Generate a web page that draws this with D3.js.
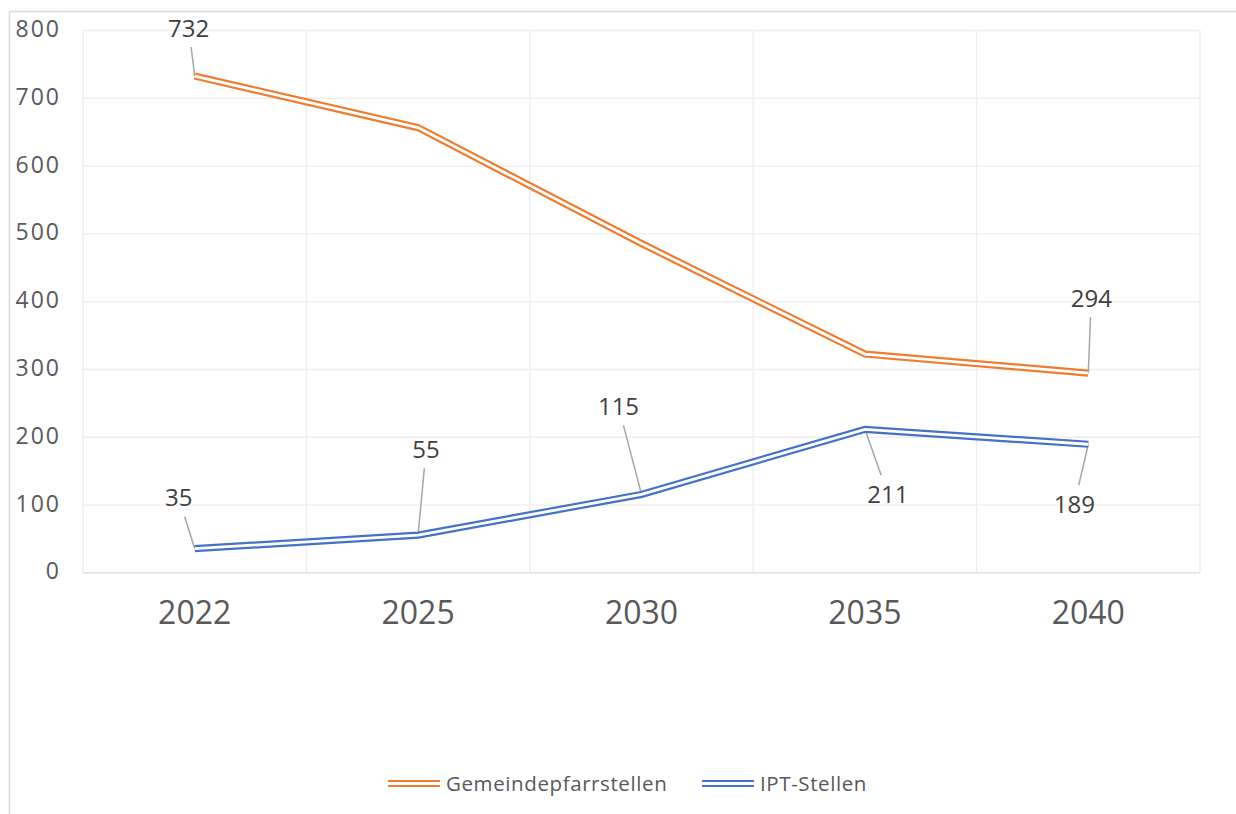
<!DOCTYPE html>
<html>
<head>
<meta charset="utf-8">
<script src="https://cdn.jsdelivr.net/npm/d3@7"></script>
<style>
  html, body { margin: 0; padding: 0; background: #fff; }
  svg { display: block; font-family: "Open Sans", "Noto Sans", sans-serif; }
</style>
</head>
<body>
<svg id="chart" width="1236" height="814"></svg>
<script>
// Years on the category axis
const years = ["2022", "2025", "2030", "2035", "2040"];
// Number of positions per year
const gemeindepfarrstellen = [732, 656, 485, 322, 294];
const iptStellen = [35, 55, 115, 211, 189];
// Value axis ticks
const yTicks = [0, 100, 200, 300, 400, 500, 600, 700, 800];
// Series names and colours
const seriesNames = ["Gemeindepfarrstellen", "IPT-Stellen"];
const seriesColors = ["#ED7D31", "#4472C4"];
// Which points carry a value label (index into years), per series
const labelledPoints = [[0, 4], [0, 1, 2, 3, 4]];
// Label placement relative to its point (label centre offset)
const labelOffsets = [
  [[-6, -48], [3, -75]],
  [[-16, -51], [8, -86], [-23, -88], [23, 65], [-14, 60]]
];

const svg = d3.select("#chart");
const plot = { left: 83, right: 1200, top: 30, bottom: 572.4 };

const x = d3.scaleBand().domain(years).range([plot.left, plot.right]).padding(0);
const y = d3.scaleLinear().domain([0, 800]).range([plot.bottom, plot.top]);

// Outer chart frame (top and left edges)
svg.append("line").attr("x1", 9.5).attr("x2", 1236).attr("y1", 11.5).attr("y2", 11.5)
  .attr("stroke", "#d9d9d9").attr("stroke-width", 1.6);
svg.append("line").attr("x1", 9.5).attr("x2", 9.5).attr("y1", 11.5).attr("y2", 814)
  .attr("stroke", "#d9d9d9").attr("stroke-width", 1.6);

// Vertical gridlines at category boundaries
const bounds = years.map(d => x(d)).concat([plot.right]);
svg.append("g").selectAll("line").data(bounds).join("line")
  .attr("x1", d => d).attr("x2", d => d)
  .attr("y1", plot.top).attr("y2", plot.bottom)
  .attr("stroke", "#eeeeee").attr("stroke-width", 1.4);

// Value axis with horizontal gridlines
const yAxis = svg.append("g")
  .attr("transform", `translate(${plot.left},0)`)
  .call(d3.axisLeft(y).tickValues(yTicks).tickSize(-(plot.right - plot.left)).tickPadding(22));
yAxis.select(".domain").remove();
yAxis.selectAll(".tick line")
  .attr("stroke", d => d === 0 ? "#d9d9d9" : "#eeeeee")
  .attr("stroke-width", 1.4);
yAxis.selectAll(".tick text")
  .attr("fill", "#595959")
  .attr("font-size", 23)
  .attr("letter-spacing", 2)
  .attr("font-family", "'Open Sans', 'Noto Sans', sans-serif")
  .attr("dy", "0.28em");

// Category axis labels
const xAxis = svg.append("g")
  .attr("transform", `translate(0,${plot.bottom})`)
  .call(d3.axisBottom(x).tickSize(0).tickPadding(29));
xAxis.select(".domain").remove();
xAxis.selectAll(".tick text")
  .attr("fill", "#595959")
  .attr("font-size", 32)
  .attr("font-family", "'Open Sans', 'Noto Sans', sans-serif");

// Series as double (compound) lines
const series = [gemeindepfarrstellen, iptStellen];
const line = d3.line()
  .x((d, i) => x(years[i]) + x.bandwidth() / 2)
  .y(d => y(d));

// Leader lines and value labels
const labelLayer = svg.append("g");
series.forEach((vals, s) => {
  labelledPoints[s].forEach((idx, k) => {
    const px = x(years[idx]) + x.bandwidth() / 2;
    const py = y(vals[idx]);
    const [dx, dy] = labelOffsets[s][k];
    const cx = px + dx, cy = py + dy;
    // leader starts outside the label box
    const hw = 27, hh = 19;
    const t = Math.min(hw / Math.max(Math.abs(dx), 1e-6), hh / Math.max(Math.abs(dy), 1e-6));
    const sx = cx - dx * t, sy = cy - dy * t;
    labelLayer.append("line")
      .attr("x1", sx).attr("y1", sy).attr("x2", px).attr("y2", py)
      .attr("stroke", "#a6a6a6").attr("stroke-width", 1.5);
    labelLayer.append("text")
      .attr("x", cx).attr("y", cy)
      .attr("text-anchor", "middle")
      .attr("dy", "0.36em")
      .attr("font-size", 24)
      .attr("fill", "#404040")
      .text(vals[idx]);
  });
});

const lineLayer = svg.append("g");
series.forEach((vals, s) => {
  lineLayer.append("path")
    .attr("d", line(vals))
    .attr("fill", "none")
    .attr("stroke", seriesColors[s])
    .attr("stroke-width", 7.2)
    .attr("stroke-linejoin", "miter");
  lineLayer.append("path")
    .attr("d", line(vals))
    .attr("fill", "none")
    .attr("stroke", "#fff")
    .attr("stroke-width", 2.8)
    .attr("stroke-linejoin", "miter");
});

// Legend
const legendItems = [
  { name: seriesNames[0], color: seriesColors[0], x: 388, w: 52 },
  { name: seriesNames[1], color: seriesColors[1], x: 702, w: 52 }
];
const legend = svg.append("g");
legendItems.forEach(item => {
  const ly = 783.5;
  legend.append("line").attr("x1", item.x).attr("x2", item.x + item.w)
    .attr("y1", ly).attr("y2", ly)
    .attr("stroke", item.color).attr("stroke-width", 7.2);
  legend.append("line").attr("x1", item.x).attr("x2", item.x + item.w)
    .attr("y1", ly).attr("y2", ly)
    .attr("stroke", "#fff").attr("stroke-width", 2.8);
  legend.append("text")
    .attr("x", item.x + item.w + 6).attr("y", 790.5)
    .attr("font-size", 20.5)
    .attr("letter-spacing", 0.6)
    .attr("fill", "#595959")
    .text(item.name);
});
</script>
</body>
</html>
